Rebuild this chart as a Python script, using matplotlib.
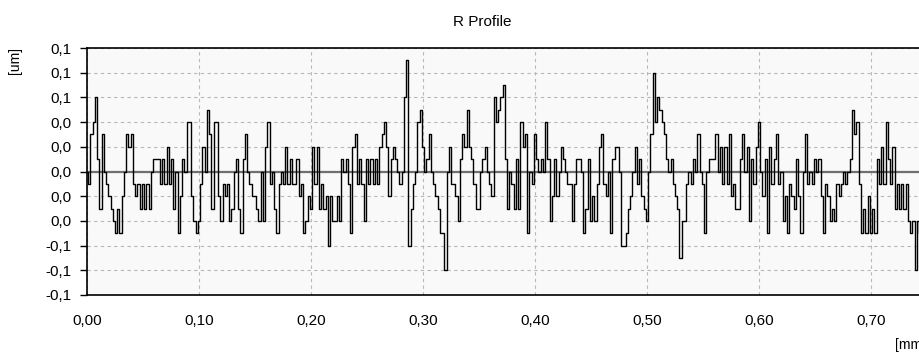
import numpy as np
import matplotlib
matplotlib.use('Agg')
import matplotlib.pyplot as plt

plt.rcParams['font.family'] = ['Liberation Sans', 'DejaVu Sans']

# R profile, one value every 0.002 mm (um)
profile = [
    # 0.000 - 0.092
    0.0, -0.01, 0.03, 0.04, 0.06, 0.01, -0.03, 0.03, 0.0, -0.01,
    -0.02, -0.03, -0.04, -0.05, -0.03, -0.05, -0.02, 0.0, 0.03, 0.02,
    0.03, -0.01, -0.02, -0.01, -0.03, -0.01, -0.03, -0.01, -0.03, 0.0,
    0.01, 0.01, 0.01, -0.01, 0.01, -0.01, 0.02, -0.01, 0.01, -0.03,
    0.0, -0.05, -0.02, 0.01, 0.0, 0.04, 0.04,
    # crop 3
    -0.02, -0.04, -0.05, -0.04, -0.01, 0.02, 0.0, 0.05, 0.03, -0.03,
    0.04, 0.04, -0.02, -0.04, -0.01, -0.02, -0.01, -0.04, -0.03, 0.0,
    0.01, -0.03, -0.05, 0.01, 0.03, 0.0, -0.01, -0.02, -0.02, -0.03,
    -0.04, 0.0, -0.04, 0.02, 0.04, -0.01, 0.0, -0.03, -0.05, -0.01,
    0.0, -0.01, 0.02, -0.01, 0.01, -0.01,
    # crop 4
    -0.01, 0.01, -0.02, -0.01, -0.05, -0.04, -0.02, -0.03, 0.02, -0.01,
    0.02, -0.03, -0.01, -0.03, -0.02, -0.06, -0.02, -0.04, -0.04, -0.02,
    -0.04, 0.01, 0.0, 0.01, -0.01, -0.05, 0.02, 0.03, -0.01, 0.01,
    -0.01, -0.04, 0.01, -0.01, 0.01, -0.01, 0.01, -0.01, 0.02, 0.03,
    0.04, 0.02, -0.02, 0.01, 0.02, 0.01, 0.0,
    # crop 5
    -0.01, 0.0, 0.06, 0.09, -0.06, -0.03, -0.01, 0.0, 0.04, 0.05,
    0.02, 0.0, 0.01, 0.03, 0.0, -0.01, -0.02, -0.03, -0.05, -0.05,
    -0.08, 0.0, 0.02, -0.01, -0.01, -0.02, -0.04, 0.01, 0.03, 0.02,
    0.05, 0.02, 0.01, -0.01, -0.03, -0.03, 0.0, 0.01, 0.02, 0.0,
    -0.01, -0.02, 0.06, 0.04, 0.05, 0.06, 0.07,
    # crop 6
    0.01, -0.03, 0.0, -0.01, -0.03, 0.01, -0.03, 0.04, 0.02, 0.03,
    -0.05, 0.0, -0.01, 0.03, 0.01, 0.0, 0.01, 0.0, 0.04, 0.01,
    -0.04, -0.02, 0.01, -0.02, 0.0, 0.02, 0.01, 0.0, -0.01, -0.01,
    -0.04, -0.01, 0.01, 0.01, 0.0, -0.05, -0.03, 0.01, -0.04, -0.02,
    -0.04, -0.01, 0.02, 0.03, -0.01, -0.02, 0.0,
    # crop 7
    -0.05, 0.01, 0.02, 0.02, 0.0, -0.06, -0.06, -0.05, -0.03, -0.02,
    0.0, 0.02, -0.01, 0.01, -0.02, -0.03, -0.04, 0.0, 0.03, 0.08,
    0.04, 0.06, 0.05, 0.04, 0.03, 0.01, 0.0, 0.01, -0.01, -0.02,
    -0.03, -0.07, -0.04, -0.04, -0.01, 0.0, -0.01, 0.01, 0.0, 0.03,
    0.0, -0.01, -0.05, 0.0, 0.01, 0.01, 0.01,
    # crop 8
    0.03, 0.0, 0.02, -0.01, 0.02, -0.01, 0.03, -0.02, -0.01, -0.03,
    -0.03, 0.01, 0.03, 0.0, 0.02, -0.04, 0.01, -0.01, 0.02, 0.04,
    0.0, -0.02, 0.01, -0.05, 0.02, -0.01, 0.01, 0.03, -0.01, 0.0,
    -0.04, -0.02, -0.05, -0.01, -0.02, -0.03, 0.01, -0.02, -0.05, 0.0,
    0.03, -0.01, 0.0, -0.01, 0.01, 0.0, 0.01,
    # crop 9
    -0.02, -0.05, -0.01, -0.02, -0.04, -0.03, -0.04, -0.01, -0.02, -0.01,
    0.0, -0.01, 0.0, 0.01, 0.05, 0.03, 0.04, -0.01, -0.05, -0.03,
    -0.05, -0.02, -0.05, -0.03, -0.05, 0.01, -0.01, 0.02, -0.01, 0.04,
    0.01, -0.01, 0.02, -0.03, -0.01, -0.03, -0.01, -0.03, -0.01, -0.04,
    -0.05, -0.04, -0.08, -0.04, -0.05, -0.03,
]
step_mm = 0.002
dist = np.arange(len(profile)) * step_mm

yticks = [0.1, 0.08, 0.06, 0.04, 0.02, 0.0, -0.02, -0.04, -0.06, -0.08, -0.1]
ytick_labels = ['0,1', '0,1', '0,1', '0,0', '0,0', '0,0', '0,0', '0,0', '-0,1', '-0,1', '-0,1']
xticks = [0.0, 0.1, 0.2, 0.3, 0.4, 0.5, 0.6, 0.7]
xtick_labels = ['0,00', '0,10', '0,20', '0,30', '0,40', '0,50', '0,60', '0,70']

W, H = 920, 354
fig = plt.figure(figsize=(W / 100, H / 100), dpi=100)
# plot area runs past the right edge of the picture, as in the source
ax = fig.add_axes([87 / W, (H - 295) / H, 896 / W, 247 / H])
ax.set_facecolor('#f9f9f9')

ax.axhline(0, color='#707070', linewidth=1.6, zorder=2)
ax.plot(dist, profile, color='black', linewidth=1.0, drawstyle='steps-mid', zorder=3)

ax.set_xlim(0, 0.8)
ax.set_ylim(-0.1, 0.1)
ax.set_yticks(yticks)
ax.set_yticklabels(ytick_labels)
ax.set_xticks(xticks)
ax.set_xticklabels(xtick_labels)

ax.grid(True, linestyle=(0, (3, 3)), color='#b8b8b8', linewidth=0.8, zorder=1)
ax.tick_params(axis='y', direction='out', length=5, width=1, pad=6,
               labelsize=11, color='black')
ax.tick_params(axis='x', length=0, pad=14, labelsize=11)

for side in ['left', 'bottom', 'top']:
    ax.spines[side].set_color('black')
    ax.spines[side].set_linewidth(1.2)
ax.spines['right'].set_visible(False)

fig.text(482 / W, 1 - 22 / H, 'R Profile', ha='center', va='center', fontsize=11)
fig.text(15 / W, 1 - 60 / H, '[um]', ha='center', va='center', rotation=90, fontsize=10)
# the unit label is cut by the right edge in the source too
fig.text(895 / W, 1 - 345 / H, '[mm]', ha='left', va='center', fontsize=10)

fig.savefig('out.png', dpi=100)
